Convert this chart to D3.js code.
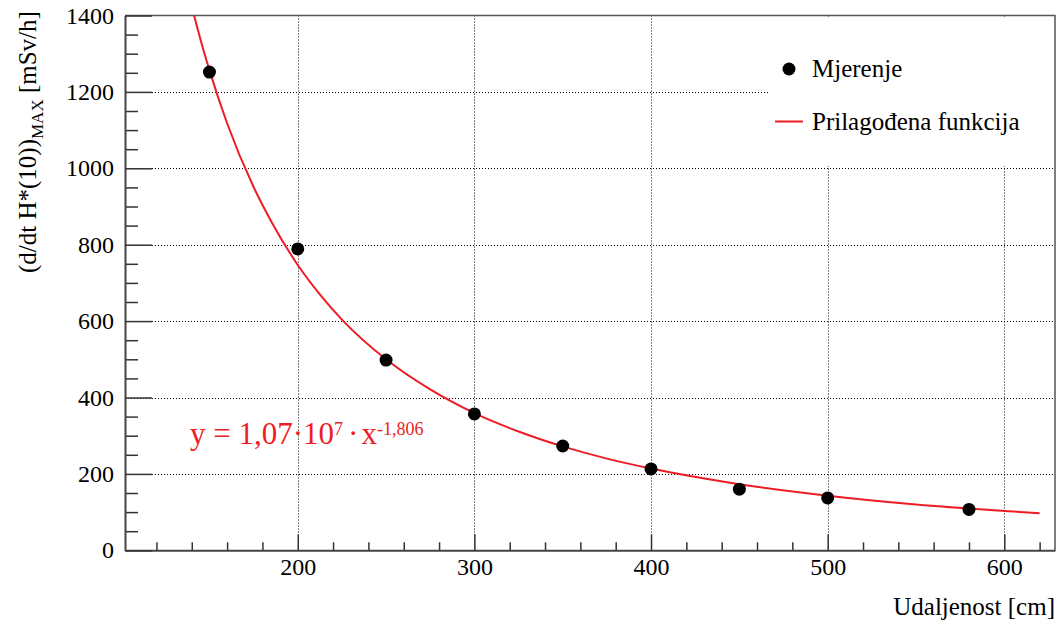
<!DOCTYPE html>
<html>
<head>
<meta charset="utf-8">
<script src="https://cdn.jsdelivr.net/npm/d3@7"></script>
<style>
  html, body { margin: 0; padding: 0; background: #fff; }
  svg { display: block; }
  svg text { font-family: "Liberation Serif", "Tinos", "DejaVu Serif", "Noto Serif", "Times New Roman", Times, serif !important; }
</style>
</head>
<body>
<svg id="chart" width="1061" height="625"></svg>
<script>
// ---- data ----
const measX = [150, 200, 250, 300, 350, 400, 450, 500, 580];
const measY = [1252, 789, 498, 357, 273, 213, 160, 137, 107];

// fitted curve samples (y = 1,07e7 * x^-1,806)
const fitX = [141.3, 145, 150, 160, 175, 185, 200, 212.5, 225, 250, 275, 300, 325, 350, 375, 400, 450, 500, 550, 600, 620];
const fitY = [1400, 1336, 1257, 1118, 951, 861, 747, 670, 604, 500, 421, 359, 311, 272, 240, 214, 173, 143, 120, 103, 97];

const xMajorTicks = [200, 300, 400, 500, 600];
const xMinorTicks = [120, 140, 160, 180, 220, 240, 260, 280, 320, 340, 360, 380, 420, 440, 460, 480, 520, 540, 560, 580, 620];
const yMajorTicks = [0, 200, 400, 600, 800, 1000, 1200, 1400];
const yMinorTicks = [50, 100, 150, 250, 300, 350, 450, 500, 550, 650, 700, 750, 850, 900, 950, 1050, 1100, 1150, 1250, 1300, 1350];

const legendLabels = ["Mjerenje", "Prilagođena funkcija"];
const xTitle = "Udaljenost [cm]";
const yTitleMain = "(d/dt H*(10))";
const yTitleSub = "MAX";
const yTitleUnit = "[mSv/h]";

// ---- layout ----
const L = 125, R = 1055, T = 15.5, B = 550.3;
const RED = "#ee1c25";
const FONT = "'Liberation Serif', 'Tinos', 'DejaVu Serif', 'Noto Serif', 'Times New Roman', Times, serif";
const svg = d3.select("#chart").attr("font-family", FONT);

const x = d3.scaleLinear().domain([102.2, 628.7]).range([L, R]);
const y = d3.scaleLinear().domain([0, 1400]).range([B, T]);

// grid
const grid = svg.append("g").attr("stroke", "#000").attr("stroke-width", 1).attr("stroke-dasharray", "1,2");
grid.selectAll("line.gx").data(xMajorTicks).enter().append("line")
  .attr("x1", d => Math.round(x(d)) + 0.5).attr("x2", d => Math.round(x(d)) + 0.5)
  .attr("y1", T).attr("y2", B);
grid.selectAll("line.gy").data(yMajorTicks.filter(d => d > 0 && d < 1400)).enter().append("line")
  .attr("y1", d => Math.round(y(d)) + 0.5).attr("y2", d => Math.round(y(d)) + 0.5)
  .attr("x1", L).attr("x2", R);

// frame (top & right)
svg.append("path")
  .attr("d", `M${L},${T}H${R}V${B}`)
  .attr("fill", "none").attr("stroke", "#555").attr("stroke-width", 1.5);

// axes
function styleAxis(g) {
  g.attr("font-family", FONT).attr("font-size", 24);
  g.selectAll("path.domain").attr("stroke", "#444").attr("stroke-width", 2);
  g.selectAll(".tick line").attr("stroke", "#333").attr("stroke-width", 1.5);
  g.selectAll("text").attr("fill", "#000");
}

svg.append("g").attr("transform", `translate(0,${B})`)
  .call(d3.axisBottom(x).tickValues(xMinorTicks).tickFormat("").tickSizeInner(-8).tickSizeOuter(0))
  .call(g => { g.select(".domain").remove(); styleAxis(g); });
svg.append("g").attr("transform", `translate(0,${B})`)
  .call(d3.axisBottom(x).tickValues(xMajorTicks).tickFormat(d3.format("d")).tickSizeInner(-16).tickSizeOuter(0).tickPadding(8))
  .call(styleAxis);

svg.append("g").attr("transform", `translate(${L},0)`)
  .call(d3.axisLeft(y).tickValues(yMinorTicks).tickFormat("").tickSizeInner(-13).tickSizeOuter(0))
  .call(g => { g.select(".domain").remove(); styleAxis(g); });
svg.append("g").attr("transform", `translate(${L},0)`)
  .call(d3.axisLeft(y).tickValues(yMajorTicks).tickFormat(d3.format("d")).tickSizeInner(-27).tickSizeOuter(0).tickPadding(11))
  .call(styleAxis);

// fitted curve
const clip = svg.append("clipPath").attr("id", "plotclip");
clip.append("rect").attr("x", L).attr("y", T).attr("width", R - L).attr("height", B - T);
const fitData = fitX.map((v, i) => [v, fitY[i]]);
svg.append("path")
  .datum(fitData)
  .attr("clip-path", "url(#plotclip)")
  .attr("fill", "none").attr("stroke", RED).attr("stroke-width", 2)
  .attr("d", d3.line().x(d => x(d[0])).y(d => y(d[1])).curve(d3.curveMonotoneX));

// measured points
svg.append("g").selectAll("circle").data(measX.map((v, i) => [v, measY[i]])).enter()
  .append("circle")
  .attr("cx", d => x(d[0])).attr("cy", d => y(d[1])).attr("r", 6.5).attr("fill", "#000");

// formula
const f = svg.append("text").attr("x", 190).attr("y", 444).attr("fill", RED).attr("font-size", 31);
f.append("tspan").text("y = 1,07·10");
f.append("tspan").attr("font-size", 18).attr("dy", -9).text("7");
f.append("tspan").attr("dy", 9).attr("dx", 5).text("·");
f.append("tspan").attr("dx", 3).text("x");
f.append("tspan").attr("font-size", 18).attr("dy", -9).text("-1,806");

// legend
svg.append("rect").attr("x", 770).attr("y", 17).attr("width", 284).attr("height", 149).attr("fill", "#fff");
svg.append("circle").attr("cx", 789).attr("cy", 69).attr("r", 6.5).attr("fill", "#000");
svg.append("line").attr("x1", 775).attr("x2", 803).attr("y1", 121.5).attr("y2", 121.5)
  .attr("stroke", RED).attr("stroke-width", 2);
svg.append("text").attr("x", 812).attr("y", 77).attr("font-size", 25).attr("fill", "#000").text(legendLabels[0]);
svg.append("text").attr("x", 812).attr("y", 130).attr("font-size", 25).attr("fill", "#000").text(legendLabels[1]);

// axis titles
svg.append("text").attr("x", 1055).attr("y", 615).attr("text-anchor", "end")
  .attr("font-size", 25).attr("fill", "#000").text(xTitle);

const yt = svg.append("text").attr("transform", "translate(36,273) rotate(-90)")
  .attr("font-size", 25).attr("fill", "#000");
yt.append("tspan").text(yTitleMain);
yt.append("tspan").attr("font-size", 17).attr("dy", 7).text(yTitleSub);
yt.append("tspan").attr("dy", -7).text(" " + yTitleUnit);
</script>
</body>
</html>
